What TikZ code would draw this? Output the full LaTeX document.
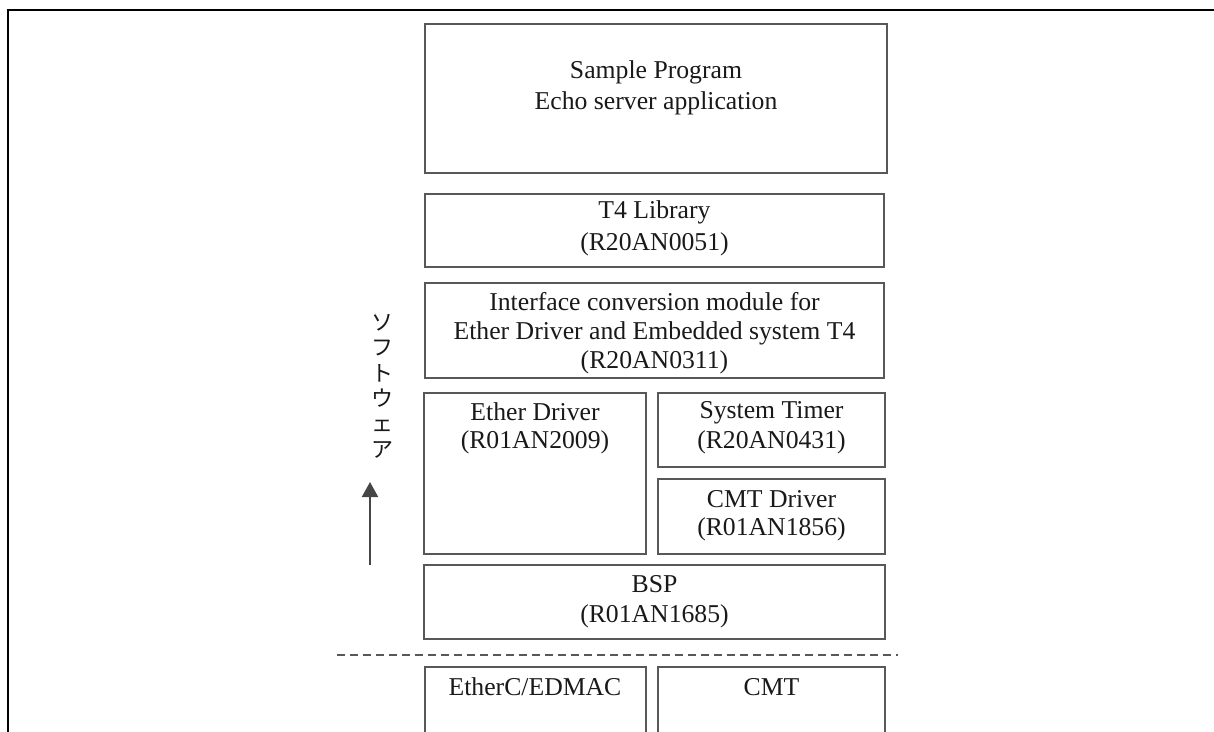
\documentclass[tikz,border=0pt]{standalone}
\usepackage{fontspec}
\setmainfont{Liberation Serif}
\newfontfamily\jpfont{Noto Sans CJK JP}
\usetikzlibrary{arrows.meta,fit}
\definecolor{boxgray}{RGB}{88,88,88}
\definecolor{txtcol}{RGB}{25,25,25}
\newcommand{\fl}{\rule{0pt}{20pt}}
\begin{document}
\begin{tikzpicture}[x=1pt,y=-1pt,
  box/.style={draw=boxgray, line width=2pt, inner sep=0pt, rectangle},
  lbl/.style={anchor=north, inner sep=0pt, align=center, text=txtcol,
              font=\fontsize{25.7}{29}\selectfont},
  framel/.style={draw=black, line width=2.6pt},
  dashl/.style={draw=boxgray, line width=2pt, dash pattern=on 8pt off 5pt},
  arrowl/.style={draw=boxgray!80!black, line width=2.2pt, -{Triangle[width=16pt,length=15pt]}}
]
\useasboundingbox (0,0) rectangle (1214,731);
\begin{scope}
\clip (0,0) rectangle (1214,731);
% outer frame (only top and left visible)
\coordinate (fb) at (8,745);
\coordinate (fc) at (8,10);
\coordinate (fr) at (1225,10);
\draw[framel] (fb) -- (fc) -- (fr);

% boxes
\node[box, fit={(425,24) (887,173)}] (app) {};
\node[box, fit={(425,194) (884,267)}] (t4) {};
\node[box, fit={(425,283) (884,378)}] (ifc) {};
\node[box, fit={(424,393) (646,554)}] (eth) {};
\node[box, fit={(658,393) (885,467)}] (tmr) {};
\node[box, fit={(658,479) (885,554)}] (cmtd) {};
\node[box, fit={(424,565) (885,639)}] (bsp) {};
\node[box, fit={(425,667) (646,760)}] (edmac) {};
\node[box, fit={(658,667) (885,760)}] (cmt) {};

% labels (first-line baseline = y + 20)
\node[lbl, font=\fontsize{25.7}{31}\selectfont] (appT) at (656,58) {\fl Sample Program\\Echo server application};
\node[lbl, font=\fontsize{25.7}{32}\selectfont] (t4T) at (654.5,198) {\fl T4 Library\\(R20AN0051)};
\node[lbl] (ifcT) at (654.5,290) {\fl Interface conversion module for\\Ether Driver and Embedded system T4\\(R20AN0311)};
\node[lbl, font=\fontsize{25.7}{28}\selectfont] (ethT) at (535,400) {\fl Ether Driver\\(R01AN2009)};
\node[lbl, font=\fontsize{25.7}{30}\selectfont] (tmrT) at (771.5,398) {\fl System Timer\\(R20AN0431)};
\node[lbl, font=\fontsize{25.7}{28}\selectfont] (cmtdT) at (771.5,487) {\fl CMT Driver\\(R01AN1856)};
\node[lbl, font=\fontsize{25.7}{30}\selectfont] (bspT) at (654.5,572) {\fl BSP\\(R01AN1685)};
\node[lbl] (edmacT) at (535,675) {\fl EtherC/EDMAC};
\node[lbl] (cmtT) at (771.5,675) {\fl CMT};

% vertical Japanese label
\node[anchor=north, inner sep=0pt, align=center, text=txtcol,
      font=\jpfont\fontsize{22}{25.4}\selectfont] (sw) at (382,310)
      {\fl ソ\\フ\\ト\\ウ\\ェ\\ア};

% arrow
\coordinate (ab) at (370,565);
\coordinate (at) at (370,482);
\draw[arrowl] (ab) -- (at);

% dashed separator
\coordinate (dl) at (337,655);
\coordinate (dr) at (898,655);
\draw[dashl] (dl) -- (dr);
\end{scope}
\end{tikzpicture}
\end{document}
